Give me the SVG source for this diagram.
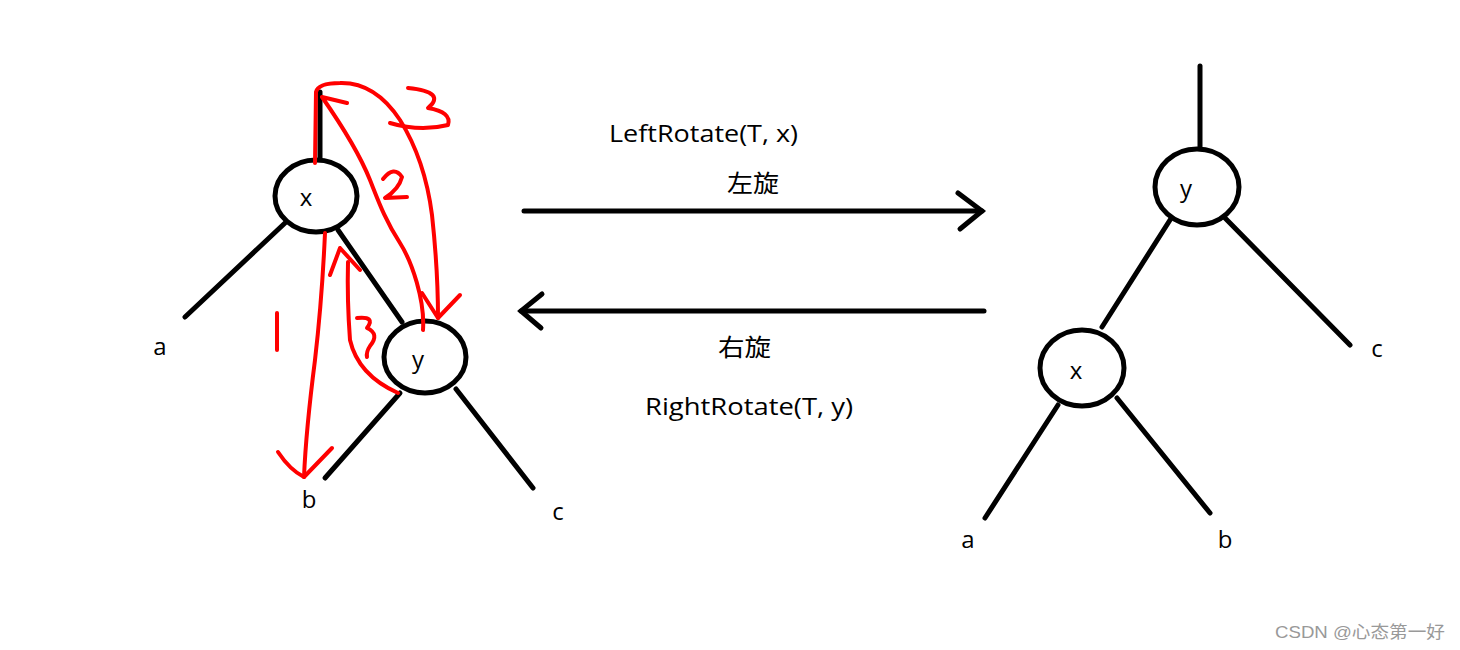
<svg xmlns="http://www.w3.org/2000/svg" width="1460" height="650" viewBox="0 0 1460 650">
<style>
.edge{stroke:#000;stroke-width:5;stroke-linecap:round;fill:none}
.node{fill:#fff;stroke:#000;stroke-width:5}
.red{stroke:#f00;stroke-width:4;stroke-linecap:round;stroke-linejoin:round;fill:none}
.lbl{font-family:"Open Sans","Noto Sans","Liberation Sans",sans-serif;font-size:24px;fill:#000}
.t{font-family:"Open Sans","Noto Sans","Liberation Sans","Noto Sans CJK SC",sans-serif;font-size:24px;fill:#000}
.wm{font-family:"Liberation Sans","Noto Sans CJK SC",sans-serif;font-size:17px;fill:#999}
</style>
<rect width="1460" height="650" fill="#fff"/>
<g id="connectors">
<line class="edge" x1="320" y1="92" x2="320" y2="158"/>
<line class="edge" x1="285" y1="223" x2="185" y2="317"/>
<line class="edge" x1="338" y1="230" x2="402" y2="322"/>
<line class="edge" x1="400" y1="393" x2="325" y2="478"/>
<line class="edge" x1="456" y1="389" x2="533" y2="488"/>
<line class="edge" x1="1200" y1="66" x2="1200" y2="147"/>
<line class="edge" x1="1170" y1="220" x2="1102" y2="327"/>
<line class="edge" x1="1225" y1="218" x2="1350" y2="345"/>
<line class="edge" x1="1058" y1="405" x2="985" y2="518"/>
<line class="edge" x1="1117" y1="398" x2="1210" y2="513"/>
<g id="left-rotate-arrow">
<line class="edge" x1="524" y1="211" x2="982" y2="211"/>
<polyline class="edge" points="958,193 982,211 960,229"/>
</g>
<g id="right-rotate-arrow">
<line class="edge" x1="984" y1="311" x2="521" y2="311"/>
<polyline class="edge" points="542,294 521,311 541,328"/>
</g>
</g>
<g id="node-x-left">
<ellipse class="node" cx="316" cy="196" rx="41" ry="36"/>
<text class="lbl" x="306" y="206" text-anchor="middle">x</text>
</g>
<g id="node-y-left">
<ellipse class="node" cx="425" cy="357" rx="41" ry="36"/>
<text class="lbl" x="418" y="368" text-anchor="middle">y</text>
</g>
<g id="node-y-right">
<ellipse class="node" cx="1197" cy="187" rx="42" ry="38"/>
<text class="lbl" x="1186" y="197" text-anchor="middle">y</text>
</g>
<g id="node-x-right">
<ellipse class="node" cx="1082" cy="368" rx="42" ry="38"/>
<text class="lbl" x="1076" y="379" text-anchor="middle">x</text>
</g>
<g id="leaf-labels">
<text class="lbl" x="160" y="355" text-anchor="middle">a</text>
<text class="lbl" x="309" y="508" text-anchor="middle">b</text>
<text class="lbl" x="558" y="520" text-anchor="middle">c</text>
<text class="lbl" x="968" y="548" text-anchor="middle">a</text>
<text class="lbl" x="1225" y="548" text-anchor="middle">b</text>
<text class="lbl" x="1377" y="357" text-anchor="middle">c</text>
</g>
<g id="op-labels">
<text class="t" x="609" y="142" textLength="189" lengthAdjust="spacingAndGlyphs">LeftRotate(T, x)</text>
<text class="t" x="727" y="192" textLength="52" lengthAdjust="spacingAndGlyphs">左旋</text>
<text class="t" x="718" y="356" textLength="53" lengthAdjust="spacingAndGlyphs">右旋</text>
<text class="t" x="645" y="415" textLength="208" lengthAdjust="spacingAndGlyphs">RightRotate(T, y)</text>
</g>
<g id="annotations">
<path class="red" d="M325,233 Q322,300 315,360 Q306,430 304,477"/>
<path class="red" d="M278,452 Q290,470 304,477 L332,448"/>
<path class="red" d="M277,313 L277,350"/>
<path class="red" d="M398,393 Q358,375 350,340 Q347,300 348,262"/>
<path class="red" d="M330,275 L340,248 L360,270"/>
<path class="red" d="M357,318 Q376,316 367,328 Q380,334 370,346 Q366,352 367,357"/>
<path class="red" d="M423,330 C425,300 412,262 400,243 C385,220 378,200 370,180 C360,155 345,130 322,97 L347,103"/>
<path class="red" d="M383,179 Q394,165 402,177 Q399,189 385,198 L407,197"/>
<path class="red" d="M315,163 L316,92 Q318,83 340,83 Q375,82 400,120 Q425,160 432,215 Q438,270 438,318"/>
<path class="red" d="M422,293 L438,318 L460,295"/>
<path class="red" d="M408,88 Q447,92 428,108 Q452,112 448,125 Q420,132 390,123"/>
</g>
<text class="wm" x="1275" y="638" textLength="170" lengthAdjust="spacingAndGlyphs">CSDN @心态第一好</text>
</svg>
